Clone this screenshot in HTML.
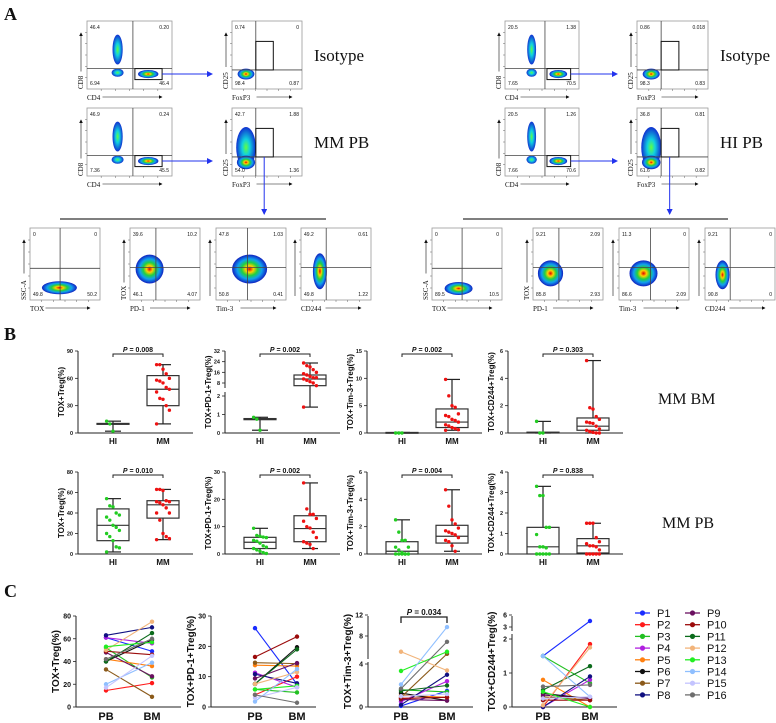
<!DOCTYPE html>
<html><head><meta charset="utf-8"><style>
body{margin:0;background:#fff}
svg{display:block;font-family:"Liberation Sans",sans-serif}
.ser{font-family:"Liberation Serif",serif}
</style></head><body>
<svg id="fig" width="776" height="723" viewBox="0 0 776 723" xmlns="http://www.w3.org/2000/svg">
<defs>
<radialGradient id="heat"><stop offset="0" stop-color="#e00000"/><stop offset="0.22" stop-color="#ffd000"/><stop offset="0.45" stop-color="#20d040"/><stop offset="0.7" stop-color="#10a0f0"/><stop offset="1" stop-color="#1020c0"/></radialGradient>
<radialGradient id="cool"><stop offset="0" stop-color="#60ff40"/><stop offset="0.4" stop-color="#10d0e0"/><stop offset="1" stop-color="#1030d0"/></radialGradient>
<marker id="arr" markerWidth="6" markerHeight="6" refX="5" refY="3" orient="auto"><path d="M0,0 L6,3 L0,6 z" fill="#2233ee"/></marker>
<marker id="karr" markerWidth="6" markerHeight="6" refX="5" refY="3" orient="auto"><path d="M0,0 L6,3 L0,6 z" fill="#111"/></marker>
</defs>
<g id="A"></g>
<g id="B"></g>
<g id="C"></g>
</svg>
<script>
// ---------- Panel B data ----------
const groupsB = ["HI","MM"];
const bTitles = ["TOX+Treg(%)","TOX+PD-1+Treg(%)","TOX+Tim-3+Treg(%)","TOX+CD244+Treg(%)"];
const bPvals1 = ["0.008","0.002","0.002","0.303"];
const bPvals2 = ["0.010","0.002","0.004","0.838"];
// row1 (MM BM)
const r1p1HI = [13,10,2];
const r1p1MM = [75,75,70,65,60,58,57,55,50,48,45,38,37,30,25,10];
const r1p1Box = [[9.5,10,10.5,2,13],[30,48,63,10,75]];
const r1p2HI = [0.85,0.75,0.15];
const r1p2MM = [23,21,20,18,16,15,14,13,12,12,11,10,9,8,6,1.4];
const r1p2Box = [[0.72,0.75,0.78,0.15,0.85],[6,11,14,1.4,23]];
const r1p3HI = [0,0,0];
const r1p3MM = [9.8,6.8,5,4.7,3.5,3.2,3,2.5,2.3,2,1.5,1.3,1,0.8,0.6,0.5];
const r1p3Box = [[0,0.05,0.1,0,0.1],[1,2,4.4,0.5,9.8]];
const r1p4HI = [0.85,0,0];
const r1p4MM = [5.3,1.85,1.75,1.2,1.0,0.8,0.75,0.7,0.5,0.3,0.2,0.1,0.05,0,0];
const r1p4Box = [[0,0.03,0.06,0,0.85],[0.2,0.5,1.1,0,5.3]];
// row2 (MM PB)
const r2p1HI = [54,47,46,40,38,36,33,28,26,23,20,17,13,7,6,2];
const r2p1MM = [63,63,62,52,51,51,50,48,45,40,40,33,20,17,15,14];
const r2p1Box = [[13,28,44,2,54],[35,48,52,14,63]];
const r2p2HI = [9.4,6.8,6.5,6.2,6,5,4.7,4,3,2.5,2,1.5,1,0.5,0.2];
const r2p2MM = [26,16.5,14.5,14.5,13,12,10,9.5,8,6,4.5,4,3.5,2];
const r2p2Box = [[2,4.3,6.1,0,9.4],[4.5,9.3,14,2,26]];
const r2p3HI = [2.5,1.6,1,1,0.5,0.5,0.3,0.1,0,0,0,0,0,0];
const r2p3MM = [4.7,3.5,2.5,2.2,1.9,1.7,1.6,1.5,1.4,1.2,1,0.9,0.6,0.2];
const r2p3Box = [[0,0.2,0.9,0,2.5],[0.8,1.3,2.1,0.2,4.7]];
const r2p4HI = [3.3,2.85,2.85,1.3,1.3,0.95,0.35,0.35,0.3,0,0,0,0,0];
const r2p4MM = [1.5,1.5,1.5,0.8,0.6,0.5,0.4,0.4,0.35,0.2,0,0,0,0,0];
const r2p4Box = [[0,0.35,1.3,0,3.3],[0.05,0.4,0.75,0,1.5]];
const ticksR1 = [[0,30,60,90],[0,1,2,8,16,24,32],[0,5,10,15],[0,2,4,6]];
const ticksR2 = [[0,20,40,60,80],[0,10,20,30],[0,2,4,6],[0,1,2,3,4]];

// ---------- Panel C data ----------
const patients = ["P1","P2","P3","P4","P5","P6","P7","P8","P9","P10","P11","P12","P13","P14","P15","P16"];
const pColors = ["#1a2cff","#ff1a1a","#22c022","#b020e0","#ff8010","#111111","#8b5a1a","#101080","#6a1060","#9b0b0b","#0b6b1b","#f2b47a","#22ee22","#8fbfff","#c4c4ff","#6e6e6e"];
const c1PB = [61,14.5,52,61,42,40,33,63,48,49,40,50,53,20,17,42];
const c1BM = [49,21,26,56,36,59,9,70,27,46,65,75,57,39,45,60];
const c2PB = [26,4,5.8,11.3,13.8,7.6,14.6,10.8,9.4,16.5,7.6,7.6,5.8,1.8,3,4];
const c2BM = [7.5,10,4.8,6.5,13.5,19.7,14.3,7.8,14.5,23.2,19,11.5,7,12.5,6.5,1.4];
const c3PB = [0.1,0.8,1.6,0.5,1.1,1.3,0.9,0.2,0.7,0.8,1.5,5,3.35,2.1,1,1.7];
const c3BM = [1.5,0.9,1.4,2.4,0.9,0.6,4.6,3,0.6,0.9,2,3.4,5,9.7,1.2,6.9];
const c4PB = [1.5,0,1.5,0,0.8,0.4,0.3,0,0.35,0.2,0.5,0.05,0.45,1.5,0.25,0.6];
const c4BM = [4.5,1.85,0.7,0.8,0,0.25,0.2,0.9,0.25,0.2,1.2,1.75,0,0.3,0.3,0.65];
const cTicks = [[0,20,40,60,80],[0,10,20,30],[0,4,8,12],[0,1,2,3,6]];

const NS="http://www.w3.org/2000/svg";
function mk(parent,tag,attrs,name,inter){
  const el=document.createElementNS(NS,tag);
  for(const k in attrs) el.setAttribute(k,attrs[k]);
  
  
  parent.appendChild(el);return el;
}
function txt(parent,x,y,s,size,name,extra){
  const a=Object.assign({x:x,y:y,'font-size':size,fill:'#111'},extra||{});
  const t=mk(parent,'text',a,name);t.textContent=s;return t;
}
const A=document.getElementById('A'),B=document.getElementById('B'),C=document.getElementById('C');

// ---------------- Panel A (flow plots) ----------------
txt(A,4,20,"A",18,'panel-a-label',{'font-weight':'bold',class:'ser'});
function flow(p){
  const g=mk(A,'g',{},p.name);
  mk(g,'rect',{x:p.x,y:p.y,width:p.w,height:p.h,fill:'#fff',stroke:'#999','stroke-width':0.8},'plot-frame');
  (p.blobs||[]).forEach(b=>{
    mk(g,'ellipse',{cx:p.x+b[0]*p.w,cy:p.y+b[1]*p.h,rx:b[2]*p.w,ry:b[3]*p.h,fill:b[4]?'url(#cool)':'url(#heat)'},'density-blob');
  });
  const qx=p.x+p.qx*p.w,qy=p.y+p.qy*p.h;
  mk(g,'line',{x1:qx,y1:p.y,x2:qx,y2:p.y+p.h,stroke:'#444','stroke-width':0.8},'quadrant-v');
  mk(g,'line',{x1:p.x,y1:qy,x2:p.x+p.w,y2:qy,stroke:'#444','stroke-width':0.8},'quadrant-h');
  if(p.gate) mk(g,'rect',{x:p.gate[0],y:p.gate[1],width:p.gate[2],height:p.gate[3],fill:'none',stroke:'#111','stroke-width':1},'gate');
  const n=p.nums;
  txt(g,p.x+3,p.y+8,n[0],5,'quad-ul');
  txt(g,p.x+p.w-3,p.y+8,n[1],5,'quad-ur',{'text-anchor':'end'});
  txt(g,p.x+3,p.y+p.h-4,n[2],5,'quad-ll');
  txt(g,p.x+p.w-3,p.y+p.h-4,n[3],5,'quad-lr',{'text-anchor':'end'});
  // ticks
  for(let i=1;i<6;i++){
    mk(g,'line',{x1:p.x-2,y1:p.y+i*p.h/6,x2:p.x,y2:p.y+i*p.h/6,stroke:'#666','stroke-width':0.5},'y-tick');
    mk(g,'line',{x1:p.x+i*p.w/6,y1:p.y+p.h,x2:p.x+i*p.w/6,y2:p.y+p.h+2,stroke:'#666','stroke-width':0.5},'x-tick');
  }
  // axis labels
  txt(g,p.x,p.y+p.h+11,p.xl,7,'x-axis-label',{class:'ser'});
  mk(g,'line',{x1:p.x+p.xl.length*4.5+2,y1:p.y+p.h+8,x2:p.x+p.w-10,y2:p.y+p.h+8,stroke:'#111','stroke-width':0.6,'marker-end':'url(#karr)'},'x-axis-arrow');
  const t=txt(g,0,0,p.yl,7,'y-axis-label',{class:'ser',transform:`translate(${p.x-4},${p.y+p.h}) rotate(-90)`});
  mk(g,'line',{x1:p.x-6,y1:p.y+p.h-p.yl.length*4.5-4,x2:p.x-6,y2:p.y+12,stroke:'#111','stroke-width':0.6,'marker-end':'url(#karr)'},'y-axis-arrow');
}
function side(ox,cw,fx,fw,tag,nums1,nums2,bx,bot){
  const Y1=21,Y2=108,H=68;
  flow({name:'cd8-cd4-isotype',x:ox,y:Y1,w:cw,h:H,qx:0.54,qy:0.7,nums:nums1[0],xl:'CD4',yl:'CD8',
    blobs:[[0.36,0.42,0.06,0.22,1],[0.36,0.76,0.07,0.06,1],[0.72,0.78,0.12,0.06,0]],gate:[ox+0.54*cw+2,Y1+0.7*H,0.32*cw,11]});
  flow({name:'cd25-foxp3-isotype',x:fx,y:Y1,w:fw,h:H,qx:0.34,qy:0.72,nums:nums1[1],xl:'FoxP3',yl:'CD25',
    blobs:[[0.2,0.78,0.12,0.08,0]],gate:[fx+0.34*fw,Y1+0.3*H,0.25*fw,0.42*H]});
  flow({name:'cd8-cd4-sample',x:ox,y:Y2,w:cw,h:H,qx:0.54,qy:0.7,nums:nums2[0],xl:'CD4',yl:'CD8',
    blobs:[[0.36,0.42,0.06,0.22,1],[0.36,0.76,0.07,0.06,1],[0.72,0.78,0.12,0.06,0]],gate:[ox+0.54*cw+2,Y2+0.7*H,0.32*cw,11]});
  flow({name:'cd25-foxp3-sample',x:fx,y:Y2,w:fw,h:H,qx:0.34,qy:0.72,nums:nums2[1],xl:'FoxP3',yl:'CD25',
    blobs:[[0.2,0.58,0.14,0.3,1],[0.2,0.8,0.13,0.1,0]],gate:[fx+0.34*fw,Y2+0.3*H,0.25*fw,0.42*H]});
  txt(A,fx+fw+12,Y1+40,'Isotype',17,'isotype-label',{class:'ser'});
  txt(A,fx+fw+12,Y2+40,tag,17,tag.toLowerCase().replace(' ','-')+'-label',{class:'ser'});
  [Y1,Y2].forEach(y=>mk(A,'line',{x1:ox+0.86*cw+2,y1:y+0.78*H,x2:fx-20,y2:y+0.78*H,stroke:'#2233ee','stroke-width':1,'marker-end':'url(#arr)'},'gate-arrow'));
  mk(A,'line',{x1:fx+0.46*fw,y1:Y2+0.72*H,x2:fx+0.46*fw,y2:214,stroke:'#2233ee','stroke-width':1,'marker-end':'url(#arr)'},'gate-arrow-down');
  mk(A,'line',{x1:bx[0],y1:219,x2:bx[1],y2:219,stroke:'#555','stroke-width':1.5},'separator-line');
  const names=['TOX','PD-1','Tim-3','CD244'];
  bot.forEach((b,i)=>{
    flow({name:'tox-'+names[i].toLowerCase()+'-plot',x:b[0],y:228,w:70,h:72,qx:b[1],qy:i==0?0.56:0.55,nums:b[2],xl:names[i],yl:i==0?'SSC-A':(i==1?'TOX':''),blobs:b[3]});
  });
}
side(87,85,232,70,'MM PB',
  [['46.4','0.20','6.94','46.4'],['0.74','0','98.4','0.87']],
  [['46.9','0.24','7.36','45.5'],['42.7','1.88','54.0','1.36']],[60,326],
  [[30,0.43,['0','0','49.8','50.2'],[[0.42,0.83,0.25,0.09,0]]],
   [130,0.37,['39.6','10.2','46.1','4.07'],[[0.28,0.57,0.2,0.2,0]]],
   [216,0.45,['47.8','1.03','50.8','0.41'],[[0.48,0.57,0.25,0.2,0]]],
   [301,0.36,['49.2','0.61','49.8','1.22'],[[0.27,0.6,0.1,0.25,0]]]]);
side(505,74,637,71,'HI PB',
  [['20.5','1.38','7.65','70.5'],['0.86','0.018','98.3','0.83']],
  [['20.5','1.26','7.66','70.6'],['36.8','0.81','61.6','0.82']],[463,728],
  [[432,0.43,['0','0','89.5','10.5'],[[0.38,0.84,0.2,0.09,0]]],
   [533,0.37,['9.21','2.09','85.8','2.93'],[[0.25,0.63,0.18,0.18,0]]],
   [619,0.45,['11.3','0','86.6','2.09'],[[0.35,0.63,0.2,0.18,0]]],
   [705,0.36,['9.21','0','90.8','0'],[[0.25,0.65,0.1,0.2,0]]]]);

// ---------------- Panel B ----------------
txt(B,4,340,"B",18,'panel-b-label',{'font-weight':'bold',class:'ser'});
const axX=[78,225,367,508];
function linScale(v0,v1,p0,p1){return v=>p0+(v-v0)*(p1-p0)/(v1-v0);}
function boxPanel(ax,top,bot,scale,ticks,title,pval,HI,MM,box,brk){
  const g=mk(B,'g',{},'boxplot-'+title.replace(/[^A-Za-z0-9]+/g,'-').toLowerCase());
  const x0=axX[ax],xe=x0+115;
  mk(g,'line',{x1:x0,y1:top,x2:x0,y2:bot,stroke:'#222','stroke-width':1},'y-axis');
  mk(g,'line',{x1:x0,y1:bot,x2:xe,y2:bot,stroke:'#222','stroke-width':1},'x-axis');
  ticks.forEach(t=>{const y=scale(t);
    mk(g,'line',{x1:x0-3,y1:y,x2:x0,y2:y,stroke:'#222','stroke-width':0.8},'y-tick');
    txt(g,x0-5,y+2,String(t),5.5,'y-tick-label',{'text-anchor':'end','font-weight':'bold'});});
  if(brk){mk(g,'rect',{x:x0-3,y:brk-3,width:6,height:4,fill:'#fff'},'axis-break');}
  txt(g,0,0,title,8,'y-axis-title',{'font-weight':'bold','text-anchor':'middle',transform:`translate(${x0-14},${(top+bot)/2}) rotate(-90)`});
  const gx=[x0+35,x0+85];
  [HI,MM].forEach((pts,gi)=>{
    const b=box[gi],cx=gx[gi],col=gi?'#ee1111':'#22cc22';
    mk(g,'line',{x1:cx,y1:scale(b[3]),x2:cx,y2:scale(b[4]),stroke:'#222','stroke-width':1.2},'whisker');
    [b[3],b[4]].forEach(v=>mk(g,'line',{x1:cx-8,y1:scale(v),x2:cx+8,y2:scale(v),stroke:'#222','stroke-width':1.2},'whisker-cap'));
    mk(g,'rect',{x:cx-16,y:scale(b[2]),width:32,height:Math.max(0.8,scale(b[0])-scale(b[2])),fill:'#fff',stroke:'#333','stroke-width':1.2},'box');
    mk(g,'line',{x1:cx-16,y1:scale(b[1]),x2:cx+16,y2:scale(b[1]),stroke:'#333','stroke-width':1.2},'median');
    pts.forEach((v,i)=>{const off=((i%5)-2)*3.2;
      mk(g,'circle',{cx:cx+off,cy:scale(v),r:1.7,fill:col},gi?'point-mm':'point-hi');});
    txt(g,cx,bot+11,groupsB[gi],8,'x-tick-label',{'text-anchor':'middle','font-weight':'bold'});
  });
  const by=top+3;
  mk(g,'path',{d:`M${gx[0]},${by+3}V${by}H${gx[1]}V${by+3}`,fill:'none',stroke:'#222','stroke-width':1},'p-bracket');
  const t=mk(g,'text',{x:(gx[0]+gx[1])/2,y:by-2,'font-size':7,'font-weight':'bold','text-anchor':'middle',fill:'#111'},'p-value');
  t.innerHTML='<tspan font-style="italic">P</tspan> = '+pval;
}
const R1T=351,R1B=433,R2T=472,R2B=554;
const sBrk1=v=>v<=2?433-v*18.5:383-(v-8)*1.333;
boxPanel(0,R1T,R1B,linScale(0,90,R1B,R1T),ticksR1[0],bTitles[0],bPvals1[0],r1p1HI,r1p1MM,r1p1Box);
boxPanel(1,R1T,R1B,sBrk1,ticksR1[1],bTitles[1],bPvals1[1],r1p2HI,r1p2MM,r1p2Box,391);
boxPanel(2,R1T,R1B,linScale(0,15,R1B,R1T),ticksR1[2],bTitles[2],bPvals1[2],r1p3HI,r1p3MM,r1p3Box);
boxPanel(3,R1T,R1B,linScale(0,6,R1B,R1T),ticksR1[3],bTitles[3],bPvals1[3],r1p4HI,r1p4MM,r1p4Box);
boxPanel(0,R2T,R2B,linScale(0,80,R2B,R2T),ticksR2[0],bTitles[0],bPvals2[0],r2p1HI,r2p1MM,r2p1Box);
boxPanel(1,R2T,R2B,linScale(0,30,R2B,R2T),ticksR2[1],bTitles[1],bPvals2[1],r2p2HI,r2p2MM,r2p2Box);
boxPanel(2,R2T,R2B,linScale(0,6,R2B,R2T),ticksR2[2],bTitles[2],bPvals2[2],r2p3HI,r2p3MM,r2p3Box);
boxPanel(3,R2T,R2B,linScale(0,4,R2B,R2T),ticksR2[3],bTitles[3],bPvals2[3],r2p4HI,r2p4MM,r2p4Box);
txt(B,658,404,'MM BM',16,'mm-bm-label',{class:'ser'});
txt(B,662,528,'MM PB',16,'mm-pb-label',{class:'ser'});

// ---------------- Panel C ----------------
txt(C,4,597,"C",18,'panel-c-label',{'font-weight':'bold',class:'ser'});
const cAx=[[76,106,152],[211,255,297],[368,401,447],[512,543,590]];
const cT=616,cB=707;
const cTitles=["TOX+Treg(%)","TOX+PD-1+Treg(%)","TOX+Tim-3+Treg(%)","TOX+CD244+Treg(%)"];
const cS=[linScale(0,80,cB,cT),linScale(0,30,cB,cT),
  v=>v<=4?707-v*10.75:657-(v-4)*5.25,
  v=>v<=2?707-v*34:627-(v-3)*4];
const cData=[[c1PB,c1BM],[c2PB,c2BM],[c3PB,c3BM],[c4PB,c4BM]];
const cBreaks=[null,null,661,633];
cAx.forEach((a,k)=>{
  const g=mk(C,'g',{},'paired-plot-'+(k+1));
  const s=cS[k],x0=a[0];
  mk(g,'line',{x1:x0,y1:cT,x2:x0,y2:cB,stroke:'#222','stroke-width':1},'y-axis');
  mk(g,'line',{x1:x0,y1:cB,x2:x0+105,y2:cB,stroke:'#222','stroke-width':1},'x-axis');
  cTicks[k].forEach(t=>{const y=s(t);
    mk(g,'line',{x1:x0-3,y1:y,x2:x0,y2:y,stroke:'#222','stroke-width':0.8},'y-tick');
    txt(g,x0-5,y+2.5,String(t),7,'y-tick-label',{'text-anchor':'end','font-weight':'bold'});});
  if(cBreaks[k]) mk(g,'rect',{x:x0-3,y:cBreaks[k]-2,width:6,height:3,fill:'#fff'},'axis-break');
  txt(g,0,0,cTitles[k],10,'y-axis-title',{'font-weight':'bold','text-anchor':'middle',transform:`translate(${x0-17},${(cT+cB)/2}) rotate(-90)`});
  txt(g,a[1],720,'PB',11,'x-tick-label',{'text-anchor':'middle','font-weight':'bold'});
  txt(g,a[2],720,'BM',11,'x-tick-label',{'text-anchor':'middle','font-weight':'bold'});
  const d=cData[k];
  patients.forEach((p,i)=>{
    mk(g,'line',{x1:a[1],y1:s(d[0][i]),x2:a[2],y2:s(d[1][i]),stroke:pColors[i],'stroke-width':1.1},'line-'+p.toLowerCase());
    mk(g,'circle',{cx:a[1],cy:s(d[0][i]),r:2.2,fill:pColors[i]},'point-pb-'+p.toLowerCase());
    mk(g,'circle',{cx:a[2],cy:s(d[1][i]),r:2.2,fill:pColors[i]},'point-bm-'+p.toLowerCase());
  });
  if(k==2){
    mk(g,'path',{d:`M${a[1]},${cT+7}V${cT+1}H${a[2]}V${cT+7}`,fill:'none',stroke:'#222','stroke-width':1.3},'p-bracket');
    const t=mk(g,'text',{x:(a[1]+a[2])/2,y:cT-1,'font-size':8,'font-weight':'bold','text-anchor':'middle',fill:'#111'},'p-value');
    t.innerHTML='<tspan font-style="italic">P</tspan> = 0.034';
  }
});
// legend
const lg=mk(C,'g',{},'legend');
patients.forEach((p,i)=>{
  const col=i<8?0:1,row=i%8;
  const lx=col?685:635,ly=613+row*11.7;
  const e=mk(lg,'g',{},'legend-entry-'+p.toLowerCase());
  mk(e,'line',{x1:lx,y1:ly,x2:lx+15,y2:ly,stroke:pColors[i],'stroke-width':1.3},'legend-line');
  mk(e,'circle',{cx:lx+7.5,cy:ly,r:2.6,fill:pColors[i]},'legend-marker');
  txt(e,lx+22,ly+4,p,11,'legend-label');
});
</script>
</body></html>
